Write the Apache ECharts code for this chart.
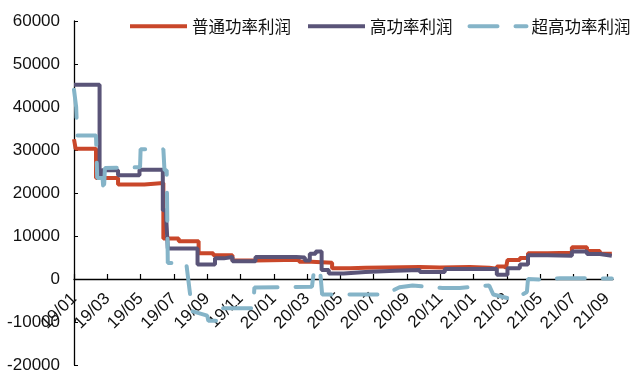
<!DOCTYPE html>
<html>
<head>
<meta charset="utf-8">
<script src="https://cdn.jsdelivr.net/npm/echarts@6/dist/echarts.min.js"></script>
<style>
html,body{margin:0;padding:0;background:#fff;}
#chart{width:632px;height:373px;}
</style>
</head>
<body>
<div id="chart"></div>
<script>
const seriesNames = ['普通功率利润', '高功率利润', '超高功率利润'];
const xTickLabels = ['19/01','19/03','19/05','19/07','19/09','19/11','20/01','20/03','20/05','20/07','20/09','20/11','21/01','21/03','21/05','21/07','21/09'];

const normalDates = ['2019-01-01','2019-01-04','2019-02-10','2019-03-21','2019-05-08','2019-06-12','2019-07-10','2019-08-16','2019-09-12','2019-10-17','2019-11-28','2020-02-16','2020-03-09','2020-04-16','2020-05-19','2020-06-16','2020-09-24','2020-10-31','2020-12-25','2021-01-30','2021-02-12','2021-02-27','2021-03-02','2021-03-25','2021-04-09','2021-05-15','2021-06-28','2021-07-26','2021-08-19','2021-09-10'];
const normalValues = [32500,30300,23500,22000,22300,9400,8800,6000,5500,4300,4500,4000,3800,2500,2600,2800,2700,2800,2600,2400,2900,2300,4400,4900,6000,6100,7400,6500,5900,5900];

const highDates = ['2019-01-01','2019-02-16','2019-02-20','2019-03-21','2019-04-29','2019-06-11','2019-06-17','2019-06-20','2019-08-14','2019-09-15','2019-10-01','2019-10-17','2019-11-28','2020-02-11','2020-02-26','2020-03-06','2020-03-17','2020-03-28','2020-04-10','2020-05-07','2020-06-16','2020-08-10','2020-09-24','2020-11-09','2021-02-12','2021-03-02','2021-03-25','2021-04-09','2021-05-15','2021-06-28','2021-07-26','2021-08-19','2021-09-10'];
const highValues = [45200,23500,25300,24100,25400,16000,14500,7100,3400,4800,5100,4100,5100,5000,4300,5900,6400,2100,1300,1600,1900,2100,1600,2300,1000,2500,3400,5500,5400,6400,5800,5400,5400];

const ultraDates = ['2019-01-01','2019-01-05','2019-01-07','2019-02-10','2019-02-12','2019-02-21','2019-02-23','2019-02-25','2019-04-30','2019-05-01','2019-06-12','2019-06-14','2019-06-18','2019-06-20','2019-07-24','2019-08-04','2019-09-01','2019-09-03','2019-09-23','2019-09-26','2019-11-24','2019-11-26','2020-03-10','2020-03-14','2020-03-25','2020-03-29','2020-07-22','2020-08-18','2020-09-11','2020-11-05','2020-12-06','2021-01-30','2021-02-06','2021-03-13','2021-04-07','2021-04-09','2021-05-14','2021-06-07','2021-09-10'];
const ultraValues = [44000,40000,33400,33400,23500,23500,19800,25800,26000,30200,30200,25300,25300,3700,3700,-7500,-8500,-9700,-9700,-6800,-6800,-2000,-1800,2200,2200,-3600,-3600,-1900,-1500,-2100,-2100,-1500,-3600,-4800,-3000,0,-200,200,100];

function toMonth(s) {
  const p = s.split('-').map(Number);
  const dim = new Date(p[0], p[1], 0).getDate();
  return (p[0] - 2019) * 12 + (p[1] - 1) + (p[2] - 1) / dim;
}
function pairs(dates, values) {
  return dates.map((d, i) => [toMonth(d), values[i]]);
}

const chart = echarts.init(document.getElementById('chart'), null, {renderer: 'canvas'});
const axisFont = {fontFamily: 'Liberation Sans, Arial, sans-serif', fontSize: 17, color: '#111'};
const gridTop = 21, gridBottom = 8, chartH = 373;
const yMin = -20000, yMax = 60000;
const zeroOffset = -Math.round((chartH - gridTop - gridBottom) * (0 - yMin) / (yMax - yMin));

chart.setOption({
  animation: false,
  backgroundColor: '#fff',
  grid: {
    left: 74, right: 19, top: gridTop, bottom: gridBottom, containLabel: false,
    outerBoundsMode: 'none'
  },
  legend: {
    left: 128, top: 18, width: 504, padding: 0,
    itemWidth: 57, itemHeight: 14, itemGap: 15,
    itemStyle: {opacity: 0},
    lineStyle: {width: 4},
    textStyle: {fontFamily: 'Noto Sans CJK SC, sans-serif', fontSize: 16.5, color: '#111'},
    data: seriesNames
  },
  xAxis: {
    type: 'value', min: 0, max: 32.37, interval: 2,
    position: 'bottom', offset: zeroOffset,
    splitLine: {show: false},
    axisLine: {onZero: false, lineStyle: {color: '#000', width: 1.3}},
    axisTick: {show: true, inside: true, length: 5, lineStyle: {color: '#000', width: 1.2}},
    axisLabel: Object.assign({}, axisFont, {
      show: true, rotate: 45, margin: 17, showMaxLabel: false,
      formatter: v => (v % 2 === 0 ? (xTickLabels[v / 2] || '') : '')
    })
  },
  yAxis: {
    type: 'value', min: yMin, max: yMax, interval: 10000,
    splitLine: {show: false},
    axisLine: {show: true, onZero: false, lineStyle: {color: '#000', width: 1.3}},
    axisTick: {show: true, inside: true, length: 4, lineStyle: {color: '#000'}},
    axisLabel: Object.assign({}, axisFont, {margin: 14, formatter: v => String(v)})
  },
  series: [
    {
      name: seriesNames[0], type: 'line', step: 'end', symbol: 'none',
      data: pairs(normalDates, normalValues),
      lineStyle: {color: '#C9472A', width: 4},
      itemStyle: {color: '#C9472A'}
    },
    {
      name: seriesNames[1], type: 'line', step: 'end', symbol: 'none',
      data: pairs(highDates, highValues),
      lineStyle: {color: '#5A5478', width: 4},
      itemStyle: {color: '#5A5478'}
    },
    {
      name: seriesNames[2], type: 'line', symbol: 'none',
      data: pairs(ultraDates, ultraValues),
      lineStyle: {color: '#85B4C8', width: 4, type: [28, 18], cap: 'round'},
      itemStyle: {color: '#85B4C8'}
    }
  ]
});
</script>
</body>
</html>
